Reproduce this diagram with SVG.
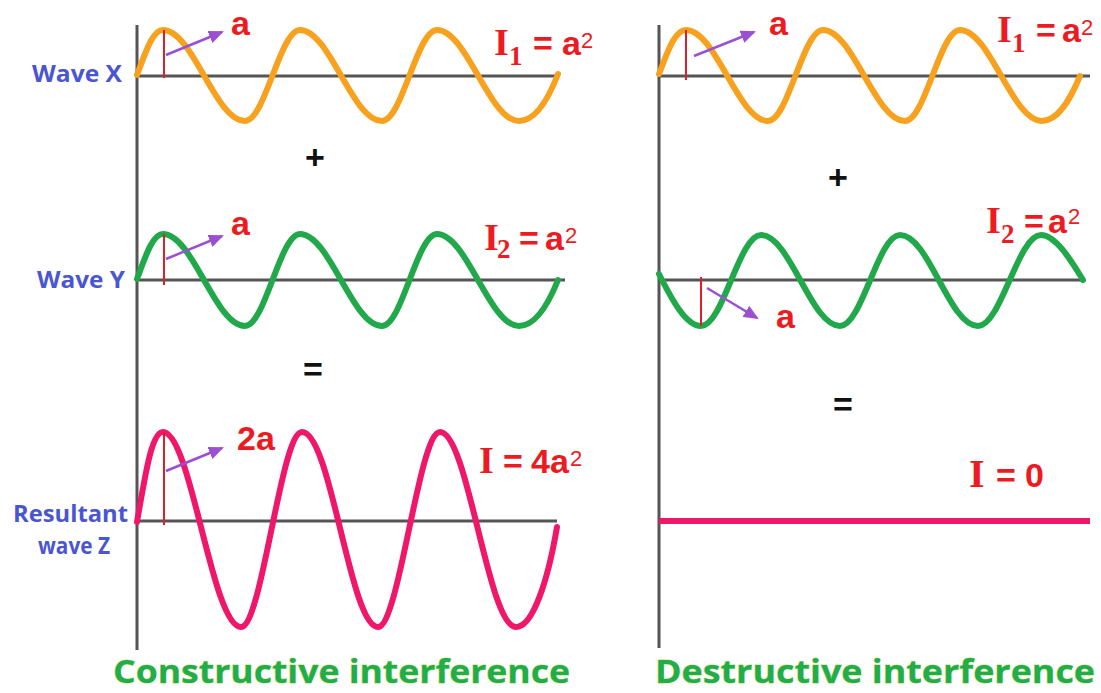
<svg xmlns="http://www.w3.org/2000/svg" width="1101" height="693" viewBox="0 0 1101 693">
<style>
.axis{stroke:#555;stroke-width:3;fill:none}
.wave{fill:none;stroke-width:6;stroke-linecap:round;stroke-linejoin:round}
.orange{stroke:#f7a11e}
.green{stroke:#21a84a}
.pink{stroke:#ef1769}
.amp{stroke:#d9202c;stroke-width:2;fill:none}
.arr{stroke:#9b4fd2;stroke-width:2.5;fill:none;marker-end:url(#ah)}
.lbl{font-family:"Open Sans","Liberation Sans",sans-serif;font-weight:700;font-size:24px;fill:#4a55d2}
.red{font-family:"Liberation Sans",Arial,sans-serif;font-weight:700;font-size:34px;fill:#ec1b22}
.ser{font-family:"Liberation Serif","Times New Roman",serif;font-weight:700}
.sup{font-weight:400;font-size:22px}
.op{font-family:"Liberation Sans",Arial,sans-serif;font-weight:700;font-size:34px;fill:#111;text-anchor:middle}
.title{font-family:"Open Sans","Liberation Sans",sans-serif;font-weight:700;font-size:33px;fill:#22ad4c;stroke:#c9e25a;stroke-width:0.8;paint-order:stroke}
</style>
<defs>
<marker id="ah" markerUnits="userSpaceOnUse" markerWidth="15" markerHeight="13" refX="13" refY="6.5" orient="auto">
<path d="M0,0 L15,6.5 L0,13 z" fill="#9b4fd2"/>
</marker>
</defs>
<rect width="1101" height="693" fill="#fff"/>

<g id="axes">
<line class="axis" x1="137" y1="25" x2="137" y2="650"/>
<line class="axis" x1="659" y1="25" x2="659" y2="648"/>
<line class="axis" x1="137" y1="76" x2="558" y2="76"/>
<line class="axis" x1="137" y1="280" x2="565" y2="280"/>
<line class="axis" x1="137" y1="521" x2="557" y2="521"/>
<line class="axis" x1="659" y1="76" x2="1090" y2="76"/>
<line class="axis" x1="659" y1="280" x2="1083" y2="280"/>
</g>

<g id="wave-x-left">
<path class="wave orange" d="M137,75 C145.6,52 152.6,30 163,30 C192.8,30 215.2,121 245,121 C265,121 280,30 300,30 C329.8,30 352.2,121 382,121 C402,121 417,30 437,30 C466.8,30 489.2,121 519,121 C535,121 548,100 558,74"/>
<line class="amp" x1="164" y1="30" x2="164" y2="78"/>
<line class="arr" x1="166" y1="55" x2="222" y2="32"/>
<text class="red" x="231" y="35">a</text>
<text class="lbl" x="32" y="82" textLength="90" lengthAdjust="spacingAndGlyphs">Wave X</text>
<text class="red"><tspan class="ser" x="494" y="55" font-size="38">I</tspan><tspan class="ser" x="509" y="65" font-size="27">1</tspan><tspan x="533" y="55">=</tspan><tspan x="562" y="55">a</tspan><tspan class="sup" x="581" y="48">2</tspan></text>
</g>

<g id="wave-y-left">
<path class="wave green" d="M137,279 C145.6,256 152.6,234 163,234 C192.8,234 215.2,326 245,326 C265,326 280,234 300,234 C329.8,234 352.2,326 382,326 C402,326 417,234 437,234 C466.8,234 489.2,326 519,326 C535,326 548,305 558,280"/>
<line class="amp" x1="164" y1="234" x2="164" y2="285"/>
<line class="arr" x1="166" y1="259" x2="222" y2="236"/>
<text class="red" x="231" y="235">a</text>
<text class="lbl" x="37" y="288" textLength="88" lengthAdjust="spacingAndGlyphs">Wave Y</text>
<text class="red"><tspan class="ser" x="484" y="250" font-size="38">I</tspan><tspan class="ser" x="497" y="258" font-size="27">2</tspan><tspan x="519" y="250">=</tspan><tspan x="545" y="250">a</tspan><tspan class="sup" x="565" y="243">2</tspan></text>
</g>

<g id="wave-z-left">
<path class="wave pink" d="M137,522 C146,470 152,432 163,432 C191,432 212,627 241,627 C262,627 281,432 302,432 C331,432 350,627 378,627 C399,627 419,432 440,432 C468,432 488,627 516,627 C533,627 548,580 557,527"/>
<line class="amp" x1="164" y1="432" x2="164" y2="525"/>
<line class="arr" x1="166" y1="471" x2="222" y2="448"/>
<text class="red" x="237" y="450">2a</text>
<text class="lbl" x="13" y="522" textLength="115" lengthAdjust="spacingAndGlyphs">Resultant</text>
<text class="lbl" x="38" y="554" textLength="72" lengthAdjust="spacingAndGlyphs">wave Z</text>
<text class="red"><tspan class="ser" x="479" y="473" font-size="38">I</tspan><tspan x="503" y="473">=</tspan><tspan x="531" y="473">4a</tspan><tspan class="sup" x="570" y="466">2</tspan></text>
</g>

<g id="wave-x-right">
<path class="wave orange" d="M659,74 C667.6,52 674.6,30 686,30 C715.8,30 738.2,121 768,121 C788,121 803,30 823,30 C852.8,30 875.2,121 905,121 C925,121 940,30 960,30 C989.8,30 1012.2,121 1042,121 C1058,121 1070,100 1080,76"/>
<line class="amp" x1="686" y1="30" x2="686" y2="80"/>
<line class="arr" x1="694" y1="56" x2="754" y2="32"/>
<text class="red" x="769" y="35">a</text>
<text class="red"><tspan class="ser" x="997" y="42" font-size="38">I</tspan><tspan class="ser" x="1012" y="52" font-size="27">1</tspan><tspan x="1036" y="42">=</tspan><tspan x="1062" y="42">a</tspan><tspan class="sup" x="1081" y="35">2</tspan></text>
</g>

<g id="wave-y-right">
<path class="wave green" d="M659,274 C672,300 686,326 701,326 C723,326 739,235 761,235 C790,235 811,326 840,326 C862,326 878,235 900,235 C929,235 949,326 978,326 C1001,326 1018,235 1041,235 C1056,235 1072,262 1083,280"/>
<line class="amp" x1="701" y1="277" x2="701" y2="326"/>
<line class="arr" x1="707" y1="288" x2="757" y2="318"/>
<text class="red" x="776" y="328">a</text>
<text class="red"><tspan class="ser" x="986" y="233" font-size="38">I</tspan><tspan class="ser" x="1001" y="243" font-size="27">2</tspan><tspan x="1024" y="233">=</tspan><tspan x="1048" y="233">a</tspan><tspan class="sup" x="1068" y="224">2</tspan></text>
</g>

<g id="wave-z-right">
<line x1="659" y1="521" x2="1090" y2="521" stroke="#ef1769" stroke-width="6"/>
<text class="red"><tspan class="ser" x="969" y="487" font-size="40">I</tspan><tspan x="996" y="487">=</tspan><tspan x="1025" y="487">0</tspan></text>
</g>

<g id="operators">
<text class="op" x="315" y="169">+</text>
<text class="op" x="313" y="381">=</text>
<text class="op" x="838" y="189">+</text>
<text class="op" x="843" y="416">=</text>
</g>

<g id="titles">
<text class="title" x="113" y="683" textLength="457" lengthAdjust="spacingAndGlyphs">Constructive interference</text>
<text class="title" x="655" y="683" textLength="440" lengthAdjust="spacingAndGlyphs">Destructive interference</text>
</g>
</svg>
